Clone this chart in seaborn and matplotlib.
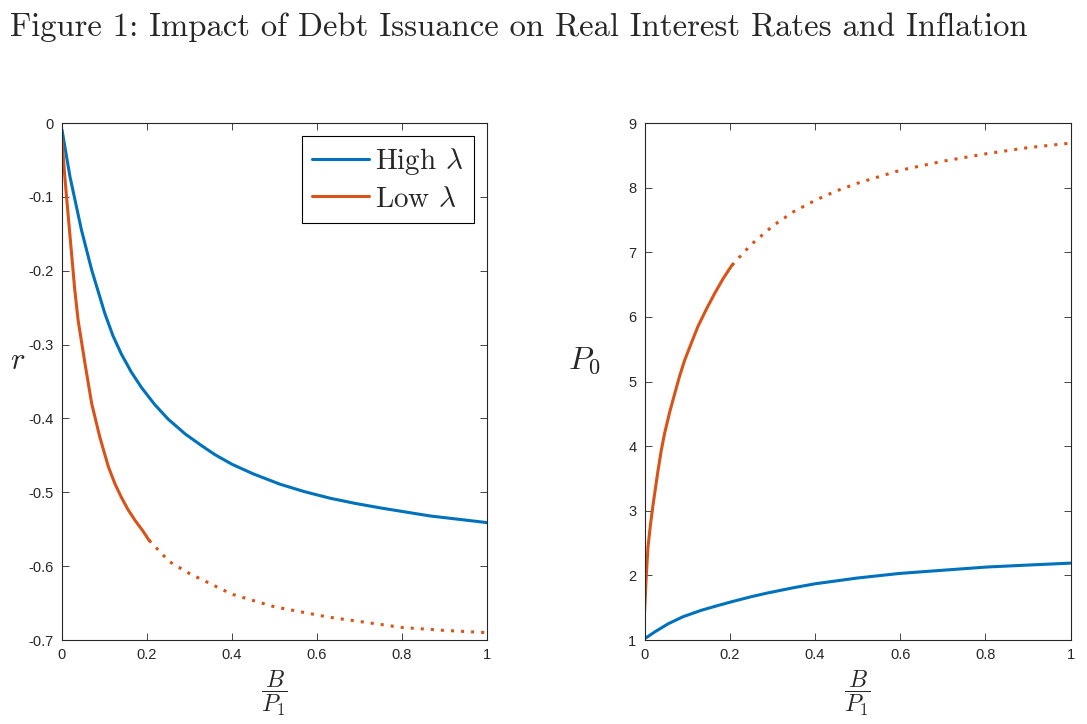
import matplotlib
matplotlib.use("Agg")
import matplotlib.pyplot as plt
import seaborn as sns

# data
# left panel: real interest rate r against B/P1
x_high_r = [0, 0.019, 0.046, 0.07, 0.101, 0.12, 0.14, 0.163, 0.187, 0.218, 0.25, 0.29, 0.329, 0.36, 0.4,
            0.45, 0.513, 0.57, 0.631, 0.69, 0.748, 0.866, 1.0]
r_high = [-0.009, -0.073, -0.145, -0.199, -0.258, -0.288, -0.313, -0.337, -0.358, -0.381, -0.401, -0.421,
          -0.437, -0.449, -0.462, -0.475, -0.489, -0.499, -0.508, -0.515, -0.521, -0.532, -0.541]

x_low_r_solid = [0, 0.005, 0.01, 0.02, 0.03, 0.038, 0.054, 0.07, 0.089, 0.109, 0.125, 0.14, 0.155, 0.172,
                 0.19, 0.205]
r_low_solid = [-0.021, -0.06, -0.095, -0.16, -0.225, -0.267, -0.325, -0.380, -0.425, -0.465, -0.489, -0.507,
               -0.523, -0.538, -0.552, -0.565]
x_low_r_dot = [0.205, 0.253, 0.3, 0.4, 0.5, 0.627, 0.8, 0.9, 1.0]
r_low_dot = [-0.565, -0.594, -0.61, -0.638, -0.655, -0.669, -0.683, -0.687, -0.690]

# right panel: price level P0 against B/P1
x_high_p = [0, 0.025, 0.055, 0.09, 0.133, 0.17, 0.203, 0.25, 0.29, 0.35, 0.4, 0.5, 0.598, 0.7, 0.804, 0.9, 1.0]
p_high = [1.02, 1.13, 1.25, 1.36, 1.46, 1.53, 1.59, 1.67, 1.73, 1.81, 1.87, 1.96, 2.03, 2.08, 2.13, 2.16, 2.19]

x_low_p_solid = [0, 0.004, 0.008, 0.014, 0.02, 0.031, 0.039, 0.047, 0.059, 0.071, 0.082, 0.094, 0.11, 0.125,
                 0.145, 0.165, 0.185, 0.205]
p_low_solid = [1.44, 2.0, 2.44, 2.8, 3.1, 3.6, 3.93, 4.2, 4.53, 4.82, 5.08, 5.33, 5.6, 5.85,
               6.12, 6.37, 6.6, 6.80]
x_low_p_dot = [0.205, 0.25, 0.303, 0.35, 0.402, 0.45, 0.5, 0.6, 0.7, 0.806, 0.9, 1.0]
p_low_dot = [6.80, 7.12, 7.42, 7.63, 7.81, 7.95, 8.07, 8.27, 8.41, 8.53, 8.62, 8.69]

blue = "#0072BD"
orange = "#D95319"
dotted = (0, (1, 2.3))

sns.set_style("ticks")
plt.rcParams["font.family"] = ["Liberation Sans", "DejaVu Sans"]
plt.rcParams["mathtext.fontset"] = "cm"
plt.rcParams["axes.unicode_minus"] = False

fig = plt.figure(figsize=(10.87, 7.24), dpi=100)
ax1 = fig.add_axes([0.057, 0.116, 0.391, 0.714])
ax2 = fig.add_axes([0.593, 0.116, 0.392, 0.714])

# left panel
sns.lineplot(x=x_high_r, y=r_high, color=blue, lw=2.2, ax=ax1, label="High $\\lambda$")
sns.lineplot(x=x_low_r_solid, y=r_low_solid, color=orange, lw=2.2, ax=ax1, label="Low $\\lambda$")
sns.lineplot(x=x_low_r_dot, y=r_low_dot, color=orange, lw=2.2, ls=dotted, ax=ax1, legend=False)
ax1.set_ylim(-0.7, 0)
ax1.set_yticks([-0.7, -0.6, -0.5, -0.4, -0.3, -0.2, -0.1, 0])
ax1.set_yticklabels(["-0.7", "-0.6", "-0.5", "-0.4", "-0.3", "-0.2", "-0.1", "0"])
ax1.set_ylabel("$r$", fontsize=22, rotation=0, ha="center", va="center")
ax1.yaxis.set_label_coords(-0.104, 0.54)
leg = ax1.legend(loc="upper right", prop={"family": "cmr10", "size": 21}, frameon=True, fancybox=False,
                 handlelength=1.95, borderaxespad=0.45, borderpad=0.35, handletextpad=0.2,
                 labelspacing=0.3)
leg.get_frame().set_edgecolor("black")
leg.get_frame().set_linewidth(0.8)
leg.get_frame().set_alpha(1)

# right panel
sns.lineplot(x=x_high_p, y=p_high, color=blue, lw=2.2, ax=ax2, legend=False)
sns.lineplot(x=x_low_p_solid, y=p_low_solid, color=orange, lw=2.2, ax=ax2, legend=False)
sns.lineplot(x=x_low_p_dot, y=p_low_dot, color=orange, lw=2.2, ls=dotted, ax=ax2, legend=False)
ax2.set_ylim(1, 9)
ax2.set_yticks(range(1, 10))
ax2.set_ylabel("$P_0$", fontsize=23, rotation=0, ha="center", va="center")
ax2.yaxis.set_label_coords(-0.141, 0.54)

for ax in (ax1, ax2):
    ax.set_xlim(0, 1)
    ax.set_xticks([0, 0.2, 0.4, 0.6, 0.8, 1])
    ax.set_xticklabels(["0", "0.2", "0.4", "0.6", "0.8", "1"])
    ax.set_xlabel("$\\dfrac{B}{P_1}$", fontsize=17, va="center")
    ax.xaxis.set_label_coords(0.5, -0.103)
    ax.tick_params(direction="in", top=True, right=True, length=5, width=0.6,
                   labelsize=10.5, colors="#262626", pad=6)
    for s in ax.spines.values():
        s.set_visible(True)
        s.set_color("#262626")
        s.set_linewidth(0.8)

fig.text(10 / 1087, 1 - 36 / 724, "Figure 1: Impact of Debt Issuance on Real Interest Rates and Inflation",
         family="cmr10", fontsize=23.5, ha="left", va="baseline")

fig.savefig("out.png", dpi=100)
